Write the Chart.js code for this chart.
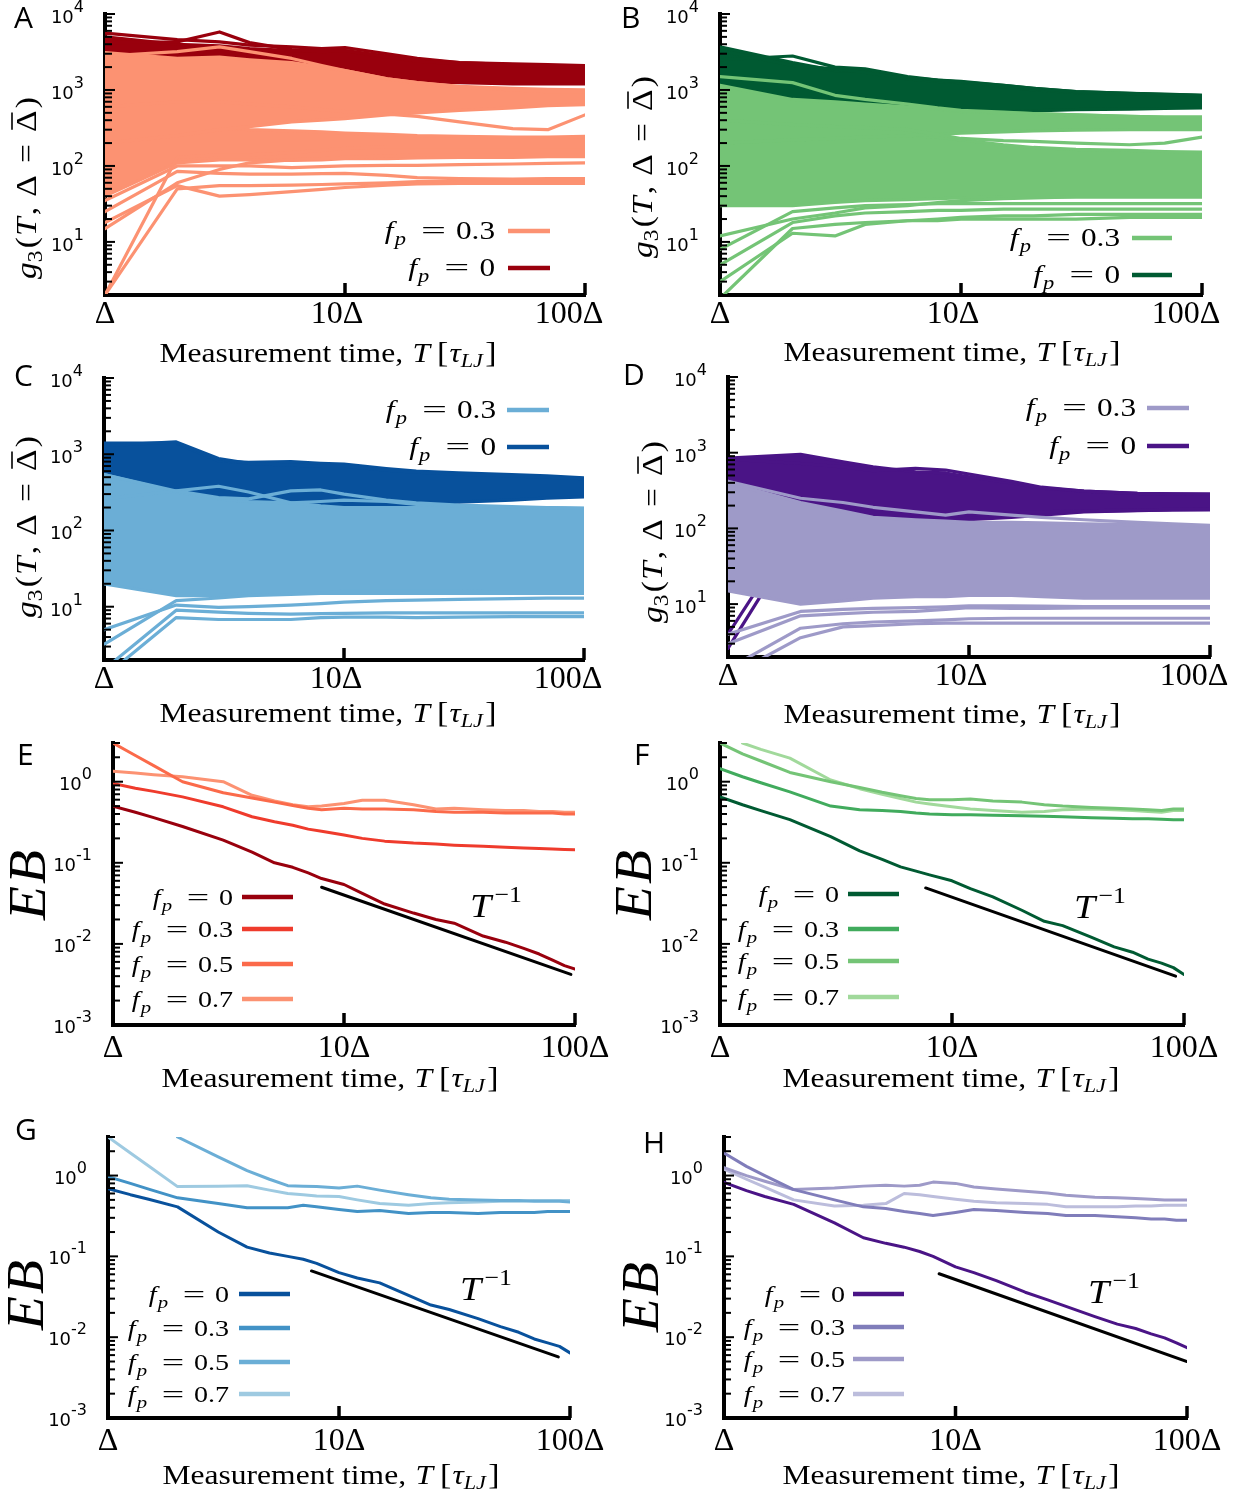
<!DOCTYPE html>
<html>
<head>
<meta charset="utf-8">
<script src="https://cdn.jsdelivr.net/npm/chart.js@4.4.0/dist/chart.umd.min.js"></script>
<style>
  body { margin: 0; background: #fff; }
  canvas { position: absolute; left: 0; top: 0; }
</style>
</head>
<body>
<script>
// ---- shared axes ----
const tX = [1, 2, 3, 4, 6, 8, 10, 15, 20, 30, 50, 70, 100];
const eX = [1, 1.25, 1.5, 2, 3, 4, 5, 6, 7, 8, 10, 12, 15, 20, 25, 30, 40, 50, 60, 70, 80, 90, 100];
const xTickVals = [1, 10, 100];
const xTickText = ['Δ', '10Δ', '100Δ'];
const g3Ticks = [10, 100, 1000, 10000];
const ebTicks = [0.001, 0.01, 0.1, 1];
const fpTop = ['0.3', '0'];
const fpBottom = ['0', '0.3', '0.5', '0.7'];

// ---- panel A : g3, reds ----
const aZeroHi = [5000, 4000, 3800, 3500, 3300, 3300, 3300, 2800, 2500, 2300, 2150, 2100, 2050];
const aZeroLo = [1500, 1400, 1500, 1500, 1450, 1400, 1400, 1350, 1300, 1250, 1200, 1200, 1200];
const aZeroLines = [
  [4200, 4300, 5800, 4200, 3400, 3200, 3300, 2700, 2400, 2200, 2100, 2050, 2000],
  [5600, 4600, 4300, 3900, 3700, 3500, 3600, 3000, 2600, 2300, 2200, 2150, 2100]
];
const aP3Hi = [3100, 2600, 2700, 2500, 2300, 2000, 1800, 1400, 1250, 1120, 1050, 1020, 1000];
const aP3Lo = [200, 250, 300, 330, 380, 400, 420, 470, 500, 540, 580, 620, 640];
const aP3Hi2 = [220, 300, 320, 300, 290, 280, 270, 260, 250, 245, 240, 240, 245];
const aP3Lo2 = [40, 110, 120, 120, 118, 120, 125, 125, 128, 130, 130, 132, 133];
const aP3Lines = [
  [2800, 3200, 3700, 3200, 2600, 2100, 1800, 1400, 1250, 1100, 1000, 950, 950],
  [600, 700, 700, 650, 600, 550, 520, 480, 450, 380, 310, 300, 470],
  [35, 100, 100, 100, 95, 98, 100, 102, 102, 104, 106, 108, 110],
  [25, 85, 80, 78, 78, 79, 80, 75, 70, 68, 67, 68, 68],
  [18, 55, 40, 42, 46, 49, 52, 56, 58, 59, 59, 59, 59],
  [2, 50, 55, 55, 56, 57, 58, 60, 62, 62, 62, 62, 63],
  [2, 130, 140, 140, 150, 160, 170, 180, 180, 180, 180, 180, 180],
  [15, 60, 90, 110, 120, 125, 130, 135, 140, 140, 140, 140, 140]
];

// ---- panel B : g3, greens ----
const bZeroHi = [3700, 2300, 1800, 1800, 1450, 1350, 1270, 1150, 1050, 950, 900, 880, 850];
const bZeroLo = [800, 700, 650, 600, 560, 530, 515, 520, 530, 550, 560, 570, 580];
const bZeroLines = [
  [2500, 2800, 2000, 1900, 1500, 1350, 1300, 1150, 1050, 950, 900, 870, 850],
  [3300, 2100, 1900, 1700, 1400, 1300, 1250, 1100, 1000, 920, 880, 860, 840]
];
const bP3Hi = [1150, 750, 700, 650, 600, 560, 520, 500, 490, 470, 450, 440, 440];
const bP3Lo = [200, 220, 230, 240, 250, 260, 270, 280, 290, 295, 300, 300, 300];
const bP3Hi2 = [200, 220, 230, 240, 250, 240, 220, 190, 175, 165, 160, 155, 152];
const bP3Lo2 = [30, 30, 33, 35, 36, 37, 38, 39, 39, 39, 39, 39, 39];
const bP3Lines = [
  [1500, 1250, 850, 750, 650, 580, 540, 510, 490, 470, 450, 440, 440],
  [400, 350, 330, 320, 300, 260, 230, 215, 210, 200, 190, 200, 240],
  [8, 25, 28, 30, 31, 32, 32, 32, 32, 32, 32, 32, 32],
  [5, 18, 22, 24, 25, 26, 26, 27, 27, 27, 27, 27, 27],
  [3, 13, 12, 17, 19, 20, 21, 22, 22, 23, 23, 23, 23],
  [1.8, 15, 17, 18, 19, 19, 20, 20, 20, 20, 21, 21, 21],
  [12, 20, 24, 28, 30, 33, 35, 37, 38, 39, 39, 39, 39]
];

// ---- panel C : g3, blues ----
const cZeroHi = [1400, 1400, 820, 780, 800, 760, 740, 650, 600, 570, 540, 520, 490];
const cZeroLo = [200, 200, 190, 180, 180, 185, 195, 205, 218, 235, 250, 265, 275];
const cZeroLines = [
  [1300, 1450, 880, 760, 720, 700, 700, 620, 580, 550, 520, 500, 480]
];
const cP3Hi = [540, 320, 260, 240, 230, 210, 200, 200, 200, 200, 200, 195, 195];
const cP3Lo = [20, 14, 14, 15, 15, 15, 16, 16, 16, 16, 15.5, 15.5, 15];
const cP3Lines = [
  [540, 330, 270, 260, 330, 340, 300, 250, 230, 215, 205, 200, 195],
  [260, 330, 380, 320, 230, 240, 250, 240, 220, 210, 200, 200, 195],
  [1.2, 7.2, 6.8, 6.8, 6.8, 7.2, 7.3, 7.3, 7.2, 7.3, 7.4, 7.4, 7.4],
  [1.5, 9, 8.5, 8.2, 8, 8.1, 8.2, 8.3, 8.3, 8.3, 8.3, 8.3, 8.3],
  [5, 10.5, 9.8, 10, 10.5, 11, 11.5, 12, 12.2, 12.5, 12.8, 13, 13],
  [3.2, 12, 13, 14, 14.5, 15, 15, 15, 15, 15, 15, 15, 15]
];

// ---- panel D : g3, purples ----
const dZeroHi = [850, 950, 760, 650, 560, 540, 480, 400, 340, 310, 290, 285, 283];
const dZeroLo = [85, 95, 100, 110, 120, 125, 130, 140, 150, 165, 172, 175, 175];
const dZeroLines = [
  [820, 720, 650, 580, 620, 590, 520, 420, 350, 310, 290, 285, 283],
  [4, 120, 130, 135, 140, 145, 150, 160, 165, 170, 175, 178, 180],
  [2.6, 90, 110, 120, 125, 135, 140, 150, 160, 168, 173, 176, 178]
];
const dP3Hi = [400, 220, 170, 140, 130, 125, 120, 120, 118, 115, 112, 110, 108];
const dP3Lo = [15, 10, 11, 12, 12.5, 12.5, 13, 13, 12.5, 12, 12, 12, 12];
const dP3Lines = [
  [420, 250, 220, 190, 165, 150, 165, 150, 140, 130, 120, 115, 110],
  [1.1, 3.6, 5, 5.2, 5.5, 5.6, 5.6, 5.6, 5.6, 5.6, 5.6, 5.6, 5.6],
  [1.4, 4.8, 5.5, 5.8, 6, 6.2, 6.4, 6.5, 6.5, 6.5, 6.5, 6.5, 6.5],
  [3, 7, 7.5, 7.8, 8, 8.5, 9, 8.8, 8.8, 8.9, 8.9, 8.9, 8.9],
  [4, 8, 8.5, 8.8, 9, 9.2, 9.5, 9.5, 9.4, 9.3, 9.3, 9.3, 9.3]
];

// ---- panels E-H : EB ----
const eFp0 = [0.50, 0.42, 0.36, 0.28, 0.19, 0.135, 0.10, 0.088, 0.075, 0.064, 0.054, 0.042, 0.031, 0.024, 0.020, 0.018, 0.0125, 0.0105, 0.0088, 0.0075, 0.0063, 0.0054, 0.0049];
const eFp3 = [0.95, 0.83, 0.76, 0.65, 0.49, 0.37, 0.32, 0.29, 0.26, 0.245, 0.22, 0.20, 0.185, 0.175, 0.17, 0.165, 0.16, 0.155, 0.152, 0.15, 0.148, 0.146, 0.145];
const eFp5 = [3.0, 2.1, 1.58, 1.0, 0.73, 0.63, 0.56, 0.51, 0.47, 0.45, 0.47, 0.46, 0.46, 0.45, 0.43, 0.42, 0.42, 0.41, 0.41, 0.41, 0.41, 0.40, 0.40];
const eFp7 = [1.35, 1.28, 1.22, 1.15, 1.0, 0.68, 0.58, 0.52, 0.49, 0.50, 0.54, 0.59, 0.59, 0.52, 0.46, 0.47, 0.45, 0.44, 0.44, 0.43, 0.43, 0.42, 0.42];
const eSlopeX = [8, 96], eSlopeY = [0.05, 0.0042];

const fFp0 = [0.65, 0.52, 0.44, 0.34, 0.21, 0.14, 0.11, 0.089, 0.079, 0.071, 0.06, 0.048, 0.038, 0.026, 0.019, 0.0168, 0.012, 0.0092, 0.0079, 0.0065, 0.0058, 0.0051, 0.0042];
const fFp3 = [1.45, 1.15, 0.97, 0.75, 0.50, 0.45, 0.44, 0.43, 0.41, 0.40, 0.39, 0.39, 0.385, 0.38, 0.375, 0.37, 0.36, 0.355, 0.35, 0.35, 0.345, 0.34, 0.34];
const fFp5 = [3.0, 2.2, 1.8, 1.3, 1.0, 0.85, 0.74, 0.67, 0.62, 0.6, 0.6, 0.61, 0.58, 0.56, 0.52, 0.5, 0.48, 0.47, 0.46, 0.45, 0.44, 0.46, 0.46];
const fFp7 = [null, 3.0, 2.5, 1.95, 1.05, 0.82, 0.70, 0.62, 0.56, 0.53, 0.49, 0.46, 0.44, 0.42, 0.43, 0.45, 0.46, 0.45, 0.44, 0.43, 0.42, 0.44, 0.44];
const fSlopeX = [7.7, 92], fSlopeY = [0.049, 0.004];

const gFp0 = [0.69, 0.58, 0.51, 0.41, 0.20, 0.13, 0.11, 0.10, 0.092, 0.082, 0.063, 0.054, 0.047, 0.033, 0.025, 0.022, 0.017, 0.0135, 0.0115, 0.0095, 0.0085, 0.0077, 0.0064];
const gFp3 = [0.97, 0.8, 0.68, 0.53, 0.45, 0.40, 0.40, 0.40, 0.43, 0.41, 0.38, 0.36, 0.37, 0.34, 0.35, 0.35, 0.34, 0.35, 0.35, 0.35, 0.36, 0.36, 0.36];
const gFp5 = [null, null, null, 3.0, 1.7, 1.15, 0.9, 0.75, 0.74, 0.73, 0.70, 0.74, 0.66, 0.58, 0.53, 0.51, 0.50, 0.49, 0.49, 0.48, 0.48, 0.48, 0.47];
const gFp7 = [3.0, 1.9, 1.31, 0.73, 0.74, 0.75, 0.66, 0.6, 0.58, 0.56, 0.55, 0.5, 0.45, 0.43, 0.45, 0.46, 0.47, 0.48, 0.48, 0.49, 0.49, 0.49, 0.49];
const gSlopeX = [7.6, 89], gSlopeY = [0.066, 0.0057];

const hFp0 = [0.82, 0.65, 0.55, 0.44, 0.26, 0.17, 0.145, 0.13, 0.115, 0.10, 0.074, 0.063, 0.05, 0.036, 0.029, 0.024, 0.018, 0.0145, 0.0128, 0.011, 0.0098, 0.0085, 0.0074];
const hFp3 = [1.9, 1.3, 1.0, 0.67, 0.5, 0.41, 0.39, 0.36, 0.34, 0.32, 0.35, 0.38, 0.37, 0.35, 0.34, 0.32, 0.32, 0.31, 0.30, 0.29, 0.29, 0.28, 0.28];
const hFp5 = [1.25, 1.0, 0.85, 0.67, 0.7, 0.74, 0.76, 0.74, 0.76, 0.83, 0.8, 0.72, 0.68, 0.64, 0.61, 0.57, 0.54, 0.53, 0.52, 0.51, 0.5, 0.5, 0.5];
const hFp7 = [1.2, 0.9, 0.72, 0.5, 0.42, 0.43, 0.45, 0.6, 0.58, 0.55, 0.51, 0.48, 0.46, 0.45, 0.44, 0.41, 0.41, 0.41, 0.42, 0.42, 0.43, 0.43, 0.43];
const hSlopeX = [8.5, 100], hSlopeY = [0.061, 0.005];

// ---- styles ----
const W = 1250, H = 1496;
const YBOX = 60, XBOX = 60;
const SERIF = '"Liberation Serif", "DejaVu Serif", serif';
const SANS = '"Open Sans", "DejaVu Sans", sans-serif';
const TICKSANS = '"DejaVu Sans", sans-serif';
const REDS = ['#99000d', '#ef3b2c', '#fb6a4a', '#fc9272'];
const GREENS = ['#005a32', '#41ab5d', '#74c476', '#a1d99b'];
const BLUES = ['#08519c', '#4292c6', '#6baed6', '#9ecae1'];
const PURPLES = ['#4a1486', '#807dba', '#9e9ac8', '#bcbddc'];

function pts(xs, ys) {
  const out = [];
  xs.forEach((x, i) => { if (ys[i] != null) out.push({x: x, y: ys[i]}); });
  return out;
}
function line(xs, ys, color, w) {
  return {data: pts(xs, ys), borderColor: color, backgroundColor: color, borderWidth: w,
          pointRadius: 0, tension: 0, fill: false, borderJoinStyle: 'round', borderCapStyle: 'round'};
}
function band(xs, hi, lo, color, w) {
  const low = line(xs, lo, color, w);
  low.fill = '-1';
  return [line(xs, hi, color, w), low];
}
function topSets(lines3, bands3, lines0, band0, c3, c0) {
  const w = 3.2;
  return [
    ...lines3.map(v => line(tX, v, c3, w)),
    ...bands3.flatMap(b => band(tX, b[0], b[1], c3, w)),
    ...lines0.map(v => line(tX, v, c0, w)),
    ...band(tX, band0[0], band0[1], c0, w)
  ];
}
function botSets(series, colors, sx, sy) {
  return [...series.map((s, i) => line(eX, s, colors[i], 3)), line(sx, sy, '#000', 3)];
}

const font = (size, it) => (it ? 'italic ' : '') + size + 'px ' + SERIF;

// draw a row of text pieces (math-like), optionally stretched horizontally
function drawRuns(ctx, runs, x, y, align, sx, target) {
  let w = 0;
  runs.forEach(r => {
    ctx.font = r.f;
    r.w = ctx.measureText(r.t).width * (r.sx || 1);
    w += r.w + (r.g || 0);
  });
  if (target) sx = target / w;
  sx = sx || 1;
  const start = align === 'right' ? x - w * sx : align === 'center' ? x - w * sx / 2 : x;
  ctx.save();
  ctx.translate(start, y);
  ctx.scale(sx, 1);
  let cx = 0;
  runs.forEach(r => {
    ctx.font = r.f;
    ctx.save();
    ctx.translate(cx, r.dy || 0);
    ctx.scale(r.sx || 1, 1);
    ctx.fillText(r.t, 0, 0);
    ctx.restore();
    if (r.bar) {
      ctx.lineWidth = 1.6;
      ctx.beginPath(); ctx.moveTo(cx + r.w * 0.1, r.bar); ctx.lineTo(cx + r.w * 0.9, r.bar); ctx.stroke();
    }
    cx += r.w + (r.g || 0);
  });
  ctx.restore();
}

function legendRuns(val, big) {
  const s = big ? 25 : 23;
  return [
    {t: 'f', f: font(s, true), g: 1},
    {t: 'p', f: font(Math.round(s * 0.72), true), dy: 6, g: 12},
    {t: '=', f: font(s), sx: 1.42, g: 8},
    {t: val, f: font(s)}
  ];
}

function decor(p) {
  return {
    id: 'decor' + p.letter,
    afterDraw(chart) {
      const ctx = chart.ctx, xs = chart.scales.x, ys = chart.scales.y, a = chart.chartArea;
      ctx.save();
      ctx.strokeStyle = '#000'; ctx.fillStyle = '#000';
      ctx.textAlign = 'left'; ctx.textBaseline = 'alphabetic';
      // inward log ticks on the y axis
      ctx.lineWidth = 2;
      const d0 = Math.floor(Math.log10(p.yMin)), d1 = Math.ceil(Math.log10(p.yMax));
      for (let d = d0; d <= d1; d++) {
        for (let m = 1; m <= 9; m++) {
          const v = m * Math.pow(10, d);
          if (v < p.yMin * 0.999 || v > p.yMax * 1.001) continue;
          const py = ys.getPixelForValue(v);
          ctx.beginPath(); ctx.moveTo(a.left, py); ctx.lineTo(a.left + (m === 1 ? 10 : 7), py); ctx.stroke();
        }
      }
      // x major ticks
      ctx.lineWidth = 3.5;
      [10, 100].forEach(v => {
        const px = xs.getPixelForValue(v);
        ctx.beginPath(); ctx.moveTo(px, a.bottom); ctx.lineTo(px, a.bottom - 12); ctx.stroke();
      });
      // y tick labels 10^n, placed from the scale's ticks
      ys.ticks.forEach(t => {
        const py = ys.getPixelForValue(t.value);
        const e = String(Math.round(Math.log10(t.value)));
        ctx.font = '16px ' + TICKSANS;
        const we = ctx.measureText(e).width;
        ctx.font = '18px ' + TICKSANS;
        const wb = ctx.measureText('10').width;
        const right = a.left - 21, base = py + (p.top ? 9 : 8);
        ctx.fillText('10', right - we - wb, base);
        ctx.font = '16px ' + TICKSANS;
        ctx.fillText(e, right - we, base - 11);
      });
      // panel letter
      ctx.font = '30px ' + SANS;
      ctx.fillText(p.letter, p.letterAt[0], p.letterAt[1]);
      // y title
      ctx.save();
      ctx.translate(p.yTitleAt[0], p.yTitleAt[1]);
      ctx.rotate(-Math.PI / 2);
      if (p.top) {
        drawRuns(ctx, [
          {t: 'g', f: font(30, true)},
          {t: '3', f: font(21), dy: 6, g: 2},
          {t: '(', f: font(30), g: 1},
          {t: 'T', f: font(30, true), g: 2},
          {t: ',', f: font(30), g: 9},
          {t: 'Δ', f: font(30), g: 11},
          {t: '=', f: font(30), g: 11},
          {t: 'Δ', f: font(30), bar: -24, g: 2},
          {t: ')', f: font(30)}
        ], 0, 0, 'center', null, 182);
      } else {
        drawRuns(ctx, [{t: 'E', f: font(52, true), g: 2}, {t: 'B', f: font(52, true)}], 0, 0, 'center', null, 70);
      }
      ctx.restore();
      // x title
      drawRuns(ctx, [
        {t: 'Measurement time,', f: font(27), g: 8},
        {t: 'T', f: font(27, true), g: 6},
        {t: '[', f: font(29), g: 1},
        {t: 'τ', f: font(27, true)},
        {t: 'LJ', f: font(19, true), dy: 5, g: 2},
        {t: ']', f: font(29)}
      ], p.xTitleAt[0], p.xTitleAt[1], 'center', null, 337);
      // legend
      const lg = p.legend;
      lg.rows.forEach((ry, i) => {
        ctx.fillStyle = '#000';
        drawRuns(ctx, legendRuns(lg.labels[i], p.top), lg.right, ry + 8, 'right', p.top ? 1.25 : 1.22);
        ctx.strokeStyle = lg.colors[i];
        ctx.lineWidth = 4.5;
        ctx.beginPath(); ctx.moveTo(lg.x1, ry); ctx.lineTo(lg.x2, ry); ctx.stroke();
      });
      // T^-1 label
      if (p.slopeAt) {
        ctx.fillStyle = '#000';
        drawRuns(ctx, [{t: 'T', f: font(34, true), g: 3}, {t: '−1', f: font(23), dy: -15}],
                 p.slopeAt[0], p.slopeAt[1], 'left', 1.12);
      }
      ctx.restore();
    }
  };
}

function makePanel(p) {
  const cv = document.createElement('canvas');
  cv.width = W; cv.height = H;
  cv.style.width = W + 'px'; cv.style.height = H + 'px';
  document.body.appendChild(cv);
  const [L, T, R, B] = p.area;
  const xLabels = p.top ? ['Δ', '10Δ\u00a0\u00a0', '100Δ\u00a0\u00a0\u00a0\u00a0'] : xTickText;
  new Chart(cv, {
    type: 'line',
    data: {datasets: p.datasets},
    options: {
      responsive: false, animation: false, events: [],
      layout: {padding: {left: L - YBOX, top: T, right: W - R, bottom: H - B - XBOX}},
      plugins: {legend: {display: false}, tooltip: {enabled: false}},
      scales: {
        x: {
          type: 'logarithmic', min: 1, max: 100, position: 'bottom', z: 1,
          grid: {display: false, drawTicks: false},
          border: {display: true, color: '#000', width: 4},
          ticks: {
            autoSkip: false, maxRotation: 0, color: '#000', padding: p.top ? 0 : 4,
            font: {family: SERIF, size: 32},
            callback: v => xLabels[xTickVals.indexOf(v)] || ''
          },
          afterBuildTicks: s => { s.ticks = xTickVals.map(v => ({value: v})); },
          afterFit: s => { s.height = XBOX; s.paddingLeft = 0; s.paddingRight = 0; }
        },
        y: {
          type: 'logarithmic', min: p.yMin, max: p.yMax, position: 'left', z: 1,
          grid: {display: false, drawTicks: false},
          border: {display: true, color: '#000', width: 4},
          ticks: {display: false},
          afterBuildTicks: s => { s.ticks = p.yTicks.map(v => ({value: v})); },
          afterFit: s => { s.width = YBOX; s.paddingTop = 0; s.paddingBottom = 0; }
        }
      }
    },
    plugins: [decor(p)]
  });
}

const panels = [
  {letter: 'A', top: true, area: [105, 14, 585, 295], yMin: 2, yMax: 1e4, yTicks: g3Ticks,
   letterAt: [14, 28], yTitleAt: [36, 188], xTitleAt: [328, 362],
   legend: {right: 495, x1: 508, x2: 550, rows: [231, 268], labels: fpTop, colors: [REDS[3], REDS[0]]},
   datasets: topSets(aP3Lines, [[aP3Hi, aP3Lo], [aP3Hi2, aP3Lo2]], aZeroLines, [aZeroHi, aZeroLo], REDS[3], REDS[0])},
  {letter: 'B', top: true, area: [720, 14, 1202, 295], yMin: 2, yMax: 1e4, yTicks: g3Ticks,
   letterAt: [621, 28], yTitleAt: [652, 167], xTitleAt: [952, 361],
   legend: {right: 1120, x1: 1132, x2: 1172, rows: [238, 275], labels: fpTop, colors: [GREENS[2], GREENS[0]]},
   datasets: topSets(bP3Lines, [[bP3Hi, bP3Lo], [bP3Hi2, bP3Lo2]], bZeroLines, [bZeroHi, bZeroLo], GREENS[2], GREENS[0])},
  {letter: 'C', top: true, area: [104, 378, 584, 660], yMin: 2, yMax: 1e4, yTicks: g3Ticks,
   letterAt: [14, 386], yTitleAt: [36, 527], xTitleAt: [328, 722],
   legend: {right: 496, x1: 507, x2: 549, rows: [410, 447], labels: fpTop, colors: [BLUES[2], BLUES[0]]},
   datasets: topSets(cP3Lines, [[cP3Hi, cP3Lo]], cZeroLines, [cZeroHi, cZeroLo], BLUES[2], BLUES[0])},
  {letter: 'D', top: true, area: [728, 377, 1210, 657], yMin: 2, yMax: 1e4, yTicks: g3Ticks,
   letterAt: [623, 385], yTitleAt: [662, 532], xTitleAt: [952, 723],
   legend: {right: 1136, x1: 1147, x2: 1189, rows: [408, 446], labels: fpTop, colors: [PURPLES[2], PURPLES[0]]},
   datasets: topSets(dP3Lines, [[dP3Hi, dP3Lo]], dZeroLines, [dZeroHi, dZeroLo], PURPLES[2], PURPLES[0])},
  {letter: 'E', top: false, area: [113, 743, 575, 1025], yMin: 1e-3, yMax: 3, yTicks: ebTicks,
   letterAt: [17, 765], yTitleAt: [45, 885], xTitleAt: [330, 1087], slopeAt: [470, 917],
   legend: {right: 233, x1: 242, x2: 293, rows: [897, 929, 964, 999], labels: fpBottom, colors: REDS},
   datasets: botSets([eFp0, eFp3, eFp5, eFp7], REDS, eSlopeX, eSlopeY)},
  {letter: 'F', top: false, area: [720, 743, 1184, 1025], yMin: 1e-3, yMax: 3, yTicks: ebTicks,
   letterAt: [634, 765], yTitleAt: [651, 885], xTitleAt: [951, 1087], slopeAt: [1074, 918],
   legend: {right: 839, x1: 848, x2: 899, rows: [894, 929, 961, 997], labels: fpBottom, colors: GREENS},
   datasets: botSets([fFp0, fFp3, fFp5, fFp7], GREENS, fSlopeX, fSlopeY)},
  {letter: 'G', top: false, area: [108, 1137, 570, 1418], yMin: 1e-3, yMax: 3, yTicks: ebTicks,
   letterAt: [15, 1140], yTitleAt: [43, 1295], xTitleAt: [331, 1484], slopeAt: [460, 1300],
   legend: {right: 229, x1: 239, x2: 290, rows: [1294, 1328, 1362, 1394], labels: fpBottom, colors: BLUES},
   datasets: botSets([gFp0, gFp3, gFp5, gFp7], BLUES, gSlopeX, gSlopeY)},
  {letter: 'H', top: false, area: [724, 1137, 1187, 1418], yMin: 1e-3, yMax: 3, yTicks: ebTicks,
   letterAt: [643, 1153], yTitleAt: [658, 1297], xTitleAt: [951, 1484], slopeAt: [1088, 1303],
   legend: {right: 845, x1: 853, x2: 904, rows: [1294, 1327, 1359, 1394], labels: fpBottom, colors: PURPLES},
   datasets: botSets([hFp0, hFp3, hFp5, hFp7], PURPLES, hSlopeX, hSlopeY)}
];

panels.forEach(makePanel);
</script>
</body>
</html>
